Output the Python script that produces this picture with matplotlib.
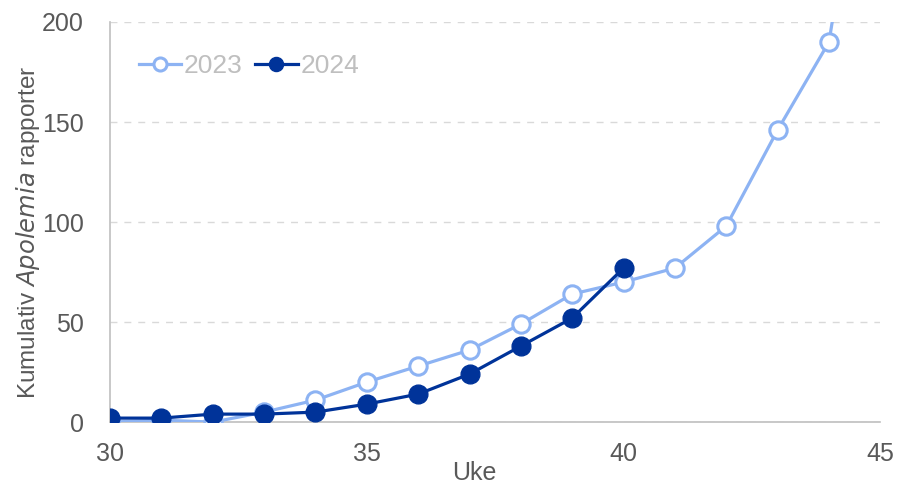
import matplotlib.pyplot as plt

plt.rcParams['font.family'] = ['Liberation Sans', 'DejaVu Sans']

# Data
uker_2023 = [30, 31, 32, 33, 34, 35, 36, 37, 38, 39, 40, 41, 42, 43, 44, 45]
verdier_2023 = [0, 1, 0, 5, 11, 20, 28, 36, 49, 64, 70, 77, 98, 146, 190, 350]
uker_2024 = [30, 31, 32, 33, 34, 35, 36, 37, 38, 39, 40]
verdier_2024 = [2, 2, 4, 4, 5, 9, 14, 24, 38, 52, 77]

lys_bla = '#8DB3F3'
mork_bla = '#003399'
tekst = '#595959'

fig = plt.figure(figsize=(9.02, 4.88), dpi=100)
ax = fig.add_axes([0.122, 0.135, 0.854, 0.82])

ax.plot(uker_2023, verdier_2023, color=lys_bla, lw=2.3, marker='o', ms=12.5,
        mfc='white', mec=lys_bla, mew=2.2, label='2023', zorder=3)
ax.plot(uker_2024, verdier_2024, color=mork_bla, lw=2.3, marker='o', ms=13.5,
        mfc=mork_bla, mec=mork_bla, label='2024', zorder=4)

ax.set_xlim(30, 45)
ax.set_ylim(0, 200)
ax.set_xticks([30, 35, 40, 45])
ax.set_yticks([0, 50, 100, 150, 200])
ax.yaxis.grid(True, linestyle=(0, (5, 5)), color='#D9D9D9', lw=1)
ax.set_axisbelow(True)

for s in ['top', 'right']:
    ax.spines[s].set_visible(False)
for s in ['left', 'bottom']:
    ax.spines[s].set_color('#BFBFBF')
    ax.spines[s].set_linewidth(1.2)

ax.tick_params(axis='both', length=0, labelsize=18, colors=tekst)
ax.tick_params(axis='x', pad=14)
ax.tick_params(axis='y', pad=19)

ax.set_xlabel('Uke', fontsize=18, color=tekst, labelpad=-3)
ax.xaxis.label.set_x(0.473)
ax.set_ylabel('Kumulativ $\\it{Apolemia}$ rapporter', fontsize=17.5, color=tekst, labelpad=0)
ax.yaxis.label.set_y(0.475)

leg = ax.legend(loc='upper left', ncol=2, frameon=False, fontsize=19,
                bbox_to_anchor=(0.013, 0.965), handlelength=1.6, handletextpad=0.1,
                columnspacing=0.5, markerscale=0.75, borderaxespad=0.3)
for t in leg.get_texts():
    t.set_color('#BFBFBF')

fig.savefig('out.png', dpi=100)
